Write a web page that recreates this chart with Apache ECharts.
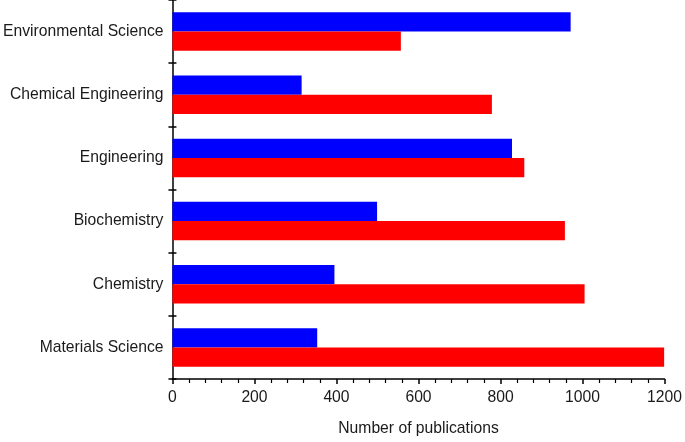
<!DOCTYPE html>
<html><head><meta charset="utf-8">
<script src="https://cdn.jsdelivr.net/npm/echarts@6/dist/echarts.min.js"></script>
<style>html,body{margin:0;padding:0;background:#fff;overflow:hidden}#c{width:685px;height:442px}</style>
</head><body><div id="c"></div>
<script>
const categories = ['Materials Science','Chemistry','Biochemistry','Engineering','Chemical Engineering','Environmental Science'];
const blueValues = [353, 395, 499, 828, 315, 971];
const redValues = [1199, 1005, 957, 858, 779, 557];
const xTicks = [0, 200, 400, 600, 800, 1000, 1200];

const chart = echarts.init(document.getElementById('c'), null, {renderer:'canvas', width: 685, height: 442});
const font = 'Liberation Sans, Arial, sans-serif';
chart.setOption({
  animation: false,
  grid: {left: 169, right: 17, top: 0, bottom: 56, containLabel: false},
  xAxis: {
    type: 'value', min: xTicks[0], max: xTicks[xTicks.length-1], interval: 200,
    name: 'Number of publications', nameLocation: 'middle', nameGap: 42,
    nameTextStyle: {fontFamily: font, fontSize: 15.7, color: '#1a1a1a'},
    axisLine: {show: true, lineStyle: {color: '#000', width: 1.5}},
    axisTick: {show: true, length: 5, lineStyle: {color: '#000', width: 1.5}},
    minorTick: {show: true, splitNumber: 5, length: 4, lineStyle: {color: '#000', width: 1.2}},
    splitLine: {show: false},
    axisLabel: {fontFamily: font, fontSize: 15.7, color: '#1a1a1a', margin: 11,
      formatter: v => String(v)}
  },
  yAxis: [{
    type: 'category', data: categories,
    axisLine: {show: true, lineStyle: {color: '#000', width: 1.5}},
    axisTick: {show: true, length: 4, lineStyle: {color: '#000', width: 1.5}},
    axisLabel: {fontFamily: font, fontSize: 15.7, color: '#1a1a1a', margin: 9}
  }, {
    type: 'category', data: categories, position: 'left',
    axisLine: {show: false},
    axisTick: {show: true, inside: true, length: 4, lineStyle: {color: '#000', width: 1.5}},
    axisLabel: {show: false}
  }],
  series: [{
    type: 'bar', name: 'A', data: blueValues, yAxisIndex: 0,
    itemStyle: {color: '#0000ff'}, barGap: '0%', barCategoryGap: '39%'
  }, {
    type: 'bar', name: 'B', data: redValues, yAxisIndex: 0,
    itemStyle: {color: '#ff0000'}, barGap: '0%', barCategoryGap: '39%'
  }]
});
</script></body></html>
